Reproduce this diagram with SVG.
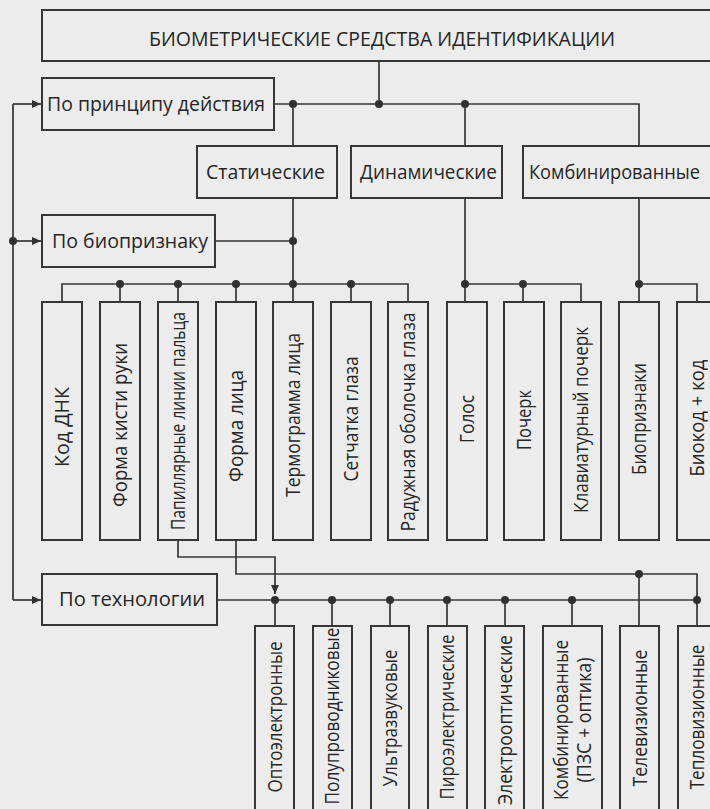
<svg xmlns="http://www.w3.org/2000/svg" width="710" height="809" viewBox="0 0 710 809">
<defs>
<style>
.b{fill:none;stroke:#363636;stroke-width:2}
.c{fill:none;stroke:#363636;stroke-width:1.7}
.d{fill:#303030}
.t{font-family:"Open Sans","Noto Sans","DejaVu Sans",sans-serif;font-size:19.5px;fill:#262626}
.h{font-size:20px}
.v{text-anchor:middle}
</style>
<marker id="ar" markerWidth="10" markerHeight="8" refX="9" refY="4" orient="auto" markerUnits="userSpaceOnUse">
<path d="M0,0 L9,4 L0,8 Z" fill="#303030"/>
</marker>
</defs>
<rect width="710" height="809" fill="#ececec"/>

<g id="connectors">
<path class="c" d="M379 61 V104"/>
<path class="c" d="M274 104 H639 V146"/>
<path class="c" d="M293 104 V146 M465 104 V146"/>
<path class="c" d="M293 198 V284 M465 198 V284 M639 198 V284"/>
<path class="c" d="M215 241 H293"/>
<path class="c" d="M13 104 V600"/>
<path class="c" d="M13 104 H41" marker-end="url(#ar)"/>
<path class="c" d="M13 241 H41" marker-end="url(#ar)"/>
<path class="c" d="M13 600 H41" marker-end="url(#ar)"/>
<path class="c" d="M62 302 V284 H408 V302 M120 284 V302 M178 284 V302 M236 284 V302 M293 284 V302 M351 284 V302"/>
<path class="c" d="M465 284 V302 M465 284 H581 V302 M523 284 V302"/>
<path class="c" d="M639 284 V302 M639 284 H697 V302"/>
<path class="c" d="M178 540 V557 H275 V594" marker-end="url(#ar)"/>
<path class="c" d="M236 540 V574 H697 V626 M639 574 V626"/>
<path class="c" d="M217 600 H697 M275 600 V626 M332 600 V626 M390 600 V626 M447 600 V626 M505 600 V626 M572 600 V626"/>
<g class="d">
<circle cx="293" cy="104" r="4"/><circle cx="379" cy="104" r="4"/><circle cx="465" cy="104" r="4"/>
<circle cx="293" cy="241" r="4"/><circle cx="13" cy="241" r="4"/>
<circle cx="120" cy="284" r="4"/><circle cx="178" cy="284" r="4"/><circle cx="236" cy="284" r="4"/><circle cx="293" cy="284" r="4"/><circle cx="351" cy="284" r="4"/>
<circle cx="465" cy="284" r="4"/><circle cx="523" cy="284" r="4"/><circle cx="639" cy="284" r="4"/>
<circle cx="639" cy="574" r="4"/>
<circle cx="275" cy="600" r="4"/><circle cx="332" cy="600" r="4"/><circle cx="390" cy="600" r="4"/><circle cx="447" cy="600" r="4"/><circle cx="505" cy="600" r="4"/><circle cx="572" cy="600" r="4"/><circle cx="697" cy="600" r="4"/>
</g>
</g>

<g id="title"><rect class="b" x="42" y="10" width="700" height="51"/><text class="t h" x="149" y="46" textLength="466" lengthAdjust="spacingAndGlyphs">БИОМЕТРИЧЕСКИЕ СРЕДСТВА ИДЕНТИФИКАЦИИ</text></g>
<g id="principle"><rect class="b" x="42" y="78" width="232" height="52"/><text class="t h" x="47" y="111" textLength="218" lengthAdjust="spacingAndGlyphs">По принципу действия</text></g>
<g id="static"><rect class="b" x="197" y="146" width="140" height="52"/><text class="t h" x="206" y="179" textLength="119" lengthAdjust="spacingAndGlyphs">Статические</text></g>
<g id="dynamic"><rect class="b" x="351" y="146" width="151" height="52"/><text class="t h" x="360" y="179" textLength="137" lengthAdjust="spacingAndGlyphs">Динамические</text></g>
<g id="combined"><rect class="b" x="523" y="146" width="220" height="52"/><text class="t h" x="529" y="179" textLength="171" lengthAdjust="spacingAndGlyphs">Комбинированные</text></g>
<g id="bio"><rect class="b" x="42" y="215" width="173" height="52"/><text class="t h" x="52" y="248" textLength="156" lengthAdjust="spacingAndGlyphs">По биопризнаку</text></g>
<g id="tech"><rect class="b" x="42" y="574" width="175" height="51"/><text class="t h" x="59" y="606" textLength="146" lengthAdjust="spacingAndGlyphs">По технологии</text></g>

<g id="f1"><rect class="b" x="42" y="302" width="40" height="238"/><text class="t v" transform="translate(62,427) rotate(-90)" dy="0.36em" textLength="80" lengthAdjust="spacingAndGlyphs">Код  ДНК</text></g>
<g id="f2"><rect class="b" x="100" y="302" width="40" height="238"/><text class="t v" transform="translate(120,425) rotate(-90)" dy="0.36em" textLength="164" lengthAdjust="spacingAndGlyphs">Форма кисти руки</text></g>
<g id="f3"><rect class="b" x="158" y="302" width="40" height="238"/><text class="t v" transform="translate(178,421) rotate(-90)" dy="0.36em" textLength="218" lengthAdjust="spacingAndGlyphs">Папиллярные линии пальца</text></g>
<g id="f4"><rect class="b" x="216" y="302" width="40" height="238"/><text class="t v" transform="translate(236,426) rotate(-90)" dy="0.36em" textLength="112" lengthAdjust="spacingAndGlyphs">Форма лица</text></g>
<g id="f5"><rect class="b" x="273" y="302" width="40" height="238"/><text class="t v" transform="translate(293,415) rotate(-90)" dy="0.36em" textLength="164" lengthAdjust="spacingAndGlyphs">Термограмма лица</text></g>
<g id="f6"><rect class="b" x="331" y="302" width="40" height="238"/><text class="t v" transform="translate(351,419) rotate(-90)" dy="0.36em" textLength="125" lengthAdjust="spacingAndGlyphs">Сетчатка глаза</text></g>
<g id="f7"><rect class="b" x="388" y="302" width="40" height="238"/><text class="t v" transform="translate(408,422) rotate(-90)" dy="0.36em" textLength="219" lengthAdjust="spacingAndGlyphs">Радужная оболочка глаза</text></g>
<g id="f8"><rect class="b" x="447" y="302" width="40" height="238"/><text class="t v" transform="translate(467,419) rotate(-90)" dy="0.36em" textLength="48" lengthAdjust="spacingAndGlyphs">Голос</text></g>
<g id="f9"><rect class="b" x="504" y="302" width="40" height="238"/><text class="t v" transform="translate(524,420) rotate(-90)" dy="0.36em" textLength="60" lengthAdjust="spacingAndGlyphs">Почерк</text></g>
<g id="f10"><rect class="b" x="561" y="302" width="40" height="238"/><text class="t v" transform="translate(581,420) rotate(-90)" dy="0.36em" textLength="186" lengthAdjust="spacingAndGlyphs">Клавиатурный почерк</text></g>
<g id="f11"><rect class="b" x="619" y="302" width="40" height="238"/><text class="t v" transform="translate(639,419) rotate(-90)" dy="0.36em" textLength="112" lengthAdjust="spacingAndGlyphs">Биопризнаки</text></g>
<g id="f12"><rect class="b" x="677" y="302" width="40" height="238"/><text class="t v" transform="translate(697,418) rotate(-90)" dy="0.36em" textLength="117" lengthAdjust="spacingAndGlyphs">Биокод + код</text></g>

<g id="t1"><rect class="b" x="255" y="626" width="39" height="190"/><text class="t v" transform="translate(275,717) rotate(-90)" dy="0.36em" textLength="151" lengthAdjust="spacingAndGlyphs">Оптоэлектронные</text></g>
<g id="t2"><rect class="b" x="313" y="626" width="39" height="190"/><text class="t v" transform="translate(332,716) rotate(-90)" dy="0.36em" textLength="177" lengthAdjust="spacingAndGlyphs">Полупроводниковые</text></g>
<g id="t3"><rect class="b" x="371" y="626" width="38" height="190"/><text class="t v" transform="translate(390,718) rotate(-90)" dy="0.36em" textLength="137" lengthAdjust="spacingAndGlyphs">Ультразвуковые</text></g>
<g id="t4"><rect class="b" x="428" y="626" width="39" height="190"/><text class="t v" transform="translate(447,717) rotate(-90)" dy="0.36em" textLength="165" lengthAdjust="spacingAndGlyphs">Пироэлектрические</text></g>
<g id="t5"><rect class="b" x="485" y="626" width="39" height="190"/><text class="t v" transform="translate(505,720) rotate(-90)" dy="0.36em" textLength="170" lengthAdjust="spacingAndGlyphs">Электрооптические</text></g>
<g id="t6"><rect class="b" x="543" y="626" width="59" height="190"/><text class="t v" transform="translate(572,720) rotate(-90)"><tspan x="0" y="-4" textLength="160" lengthAdjust="spacingAndGlyphs">Комбинированные</tspan><tspan x="0" y="19" textLength="125" lengthAdjust="spacingAndGlyphs">(ПЗС + оптика)</tspan></text></g>
<g id="t7"><rect class="b" x="620" y="626" width="39" height="190"/><text class="t v" transform="translate(640,718) rotate(-90)" dy="0.36em" textLength="137" lengthAdjust="spacingAndGlyphs">Телевизионные</text></g>
<g id="t8"><rect class="b" x="678" y="626" width="40" height="190"/><text class="t v" transform="translate(697,717) rotate(-90)" dy="0.36em" textLength="145" lengthAdjust="spacingAndGlyphs">Тепловизионные</text></g>
</svg>
